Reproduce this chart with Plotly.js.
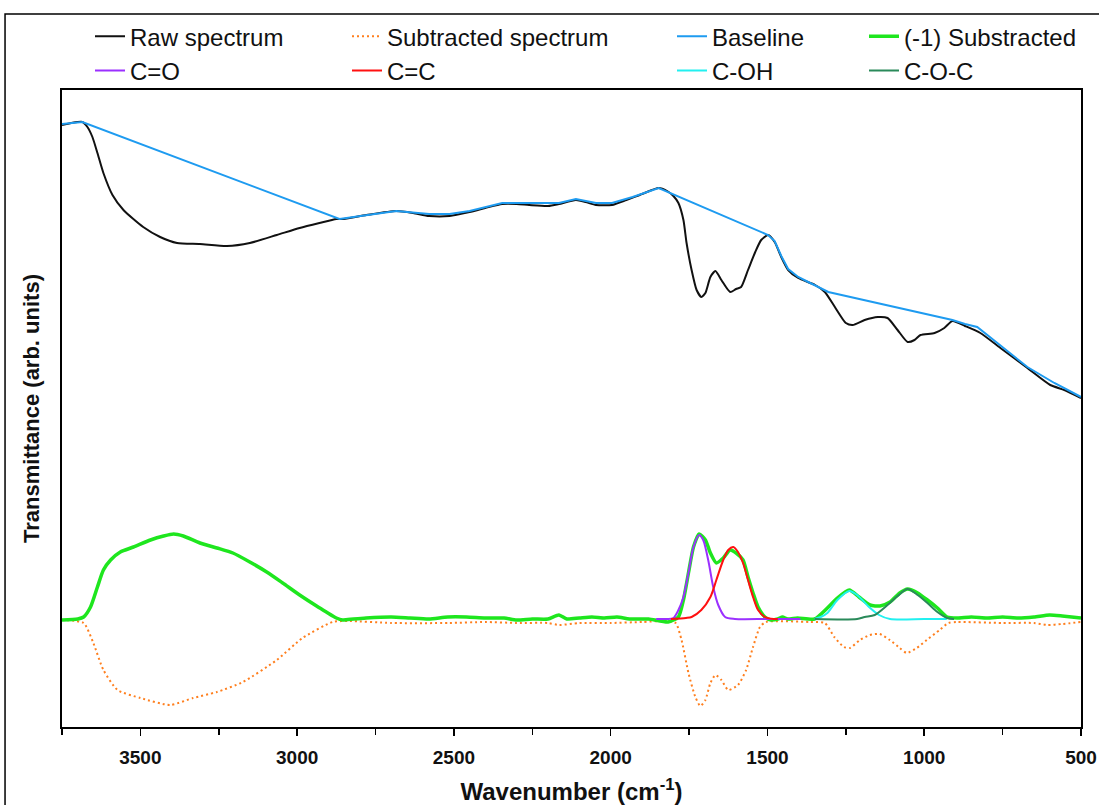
<!DOCTYPE html>
<html>
<head>
<meta charset="utf-8">
<script src="https://cdn.plot.ly/plotly-3.0.1.min.js"></script>
<style>
html,body{margin:0;padding:0;background:#fff;}
#chart{width:1099px;height:805px;}
</style>
</head>
<body>
<div id="chart"></div>
<script>
// ---- Data (wavenumber in cm-1, transmittance in arbitrary units) ----
const rawWn = [3750,3720,3685,3669,3653,3637,3618,3589,3554,3491,3437,3383,3310,3224,3151,3065,2992,2929,2875,2856,2779,2684,2630,2579,2514,2450,2400,2346,2300,2260,2200,2165,2111,2080,2047,1996,1950,1900,1847,1820,1800,1784,1768,1758,1742,1726,1711,1698,1682,1666,1647,1619,1600,1584,1562,1539,1520,1498,1477,1456,1434,1402,1348,1317,1285,1250,1228,1190,1148,1117,1085,1053,1031,1012,967,936,910,870,821,757,671,598,553,500];
const rawT  = [602,604,605,600,590,574,554,532,517,500,490,484,483,481,484,492,499,504,508,508,512,516,514,511,511,515,519,523,523,522,521,523,527,525,522,522,527,533,539,536,531,524,507,484,457,437,430,434,450,456,447,435,438,440,457,475,487,492,485,470,457,449,442,435,420,404,402,407,410,409,397,385,387,392,394,399,406,401,394,379,359,342,337,329];

const subWn = [3750,3681,3650,3618,3573,3500,3405,3332,3256,3173,3065,2983,2887,2833,2700,2515,2400,2300,2200,2165,2100,2000,1900,1830,1793,1774,1752,1730,1714,1698,1682,1666,1647,1625,1594,1568,1546,1524,1505,1363,1317,1287,1256,1237,1205,1174,1142,1110,1078,1056,1024,992,951,923,897,750,650,608,560,500];
const subT  = [107,104,84,57,37,29,22,29,35,45,67,89,105,106,104,104,105,104,104,102,104,104,105,106,104,87,54,30,21,27,44,52,47,37,42,57,80,100,105,105,104,90,80,79,87,92,93,87,79,74,79,87,97,104,105,104,104,102,103,105];

const baseWn = [3750,3685,2865,2800,2684,2579,2514,2450,2346,2260,2165,2111,2047,1996,1930,1847,1498,1477,1456,1434,1402,1370,1306,910,870,831,767,671,585,500];
const baseT  = [603,605,508,511,516,513,513,516,524,524,524,528,524,524,530,539,492,486,471,458,450,445,435,407,403,400,384,360,344,330];

const negWn = [3750,3700,3681,3659,3637,3618,3595,3564,3522,3468,3426,3394,3363,3310,3256,3205,3151,3097,3046,2992,2938,2907,2875,2855,2820,2780,2700,2640,2580,2520,2460,2400,2340,2300,2250,2200,2165,2140,2100,2060,2020,1980,1940,1879,1817,1784,1768,1752,1736,1718,1698,1682,1663,1641,1619,1600,1578,1562,1546,1530,1508,1489,1467,1452,1436,1404,1350,1309,1277,1239,1208,1173,1141,1109,1078,1053,1021,990,958,927,895,850,800,750,700,650,600,560,530,500];
const negT  = [107,108,110,120,140,157,167,175,180,187,191,193,191,184,179,174,165,155,144,132,121,115,109,107,108,109,110,109,108,110,110,109,109,107,108,108,112,108,109,110,109,110,108,108,105,110,127,154,180,193,187,174,164,169,177,174,167,150,134,120,110,107,108,110,108,109,108,119,129,137,130,122,121,125,134,138,134,127,119,110,109,110,109,110,109,110,112,111,110,109];

const coWn = [1855,1820,1800,1784,1768,1752,1736,1718,1705,1689,1673,1657,1635,1604,1500,1395];
const coT  = [108,108,109,117,130,154,180,192,187,167,140,122,110,108,108,108];

const ccWn = [1808,1760,1742,1711,1682,1663,1641,1625,1609,1594,1578,1562,1546,1530,1508,1480,1467];
const ccT  = [108,109,110,117,130,147,167,177,180,175,164,147,130,117,110,108,108];

const cohWn = [1350,1330,1309,1277,1239,1214,1176,1144,1109,1000,928];
const cohT  = [108,110,114,127,136,132,120,112,108,108,108];

const cocWn = [1350,1214,1190,1158,1117,1085,1053,1021,990,958,927,905];
const cocT  = [108,108,110,112,122,131,138,132,124,115,109,108];

const xTickVals = [3500,3000,2500,2000,1500,1000,500];
const xTickText = ['3500','3000','2500','2000','1500','1000','500'];

// ---- Traces ----
const traces = [
  {x: rawWn, y: rawT, name: 'Raw spectrum', mode: 'lines', legend: 'legend',
   line: {color: '#111111', width: 2, shape: 'spline', smoothing: 0.6}},
  {x: subWn, y: subT, name: 'Subtracted spectrum', mode: 'lines', legend: 'legend2',
   line: {color: '#ff7f1e', width: 2, dash: '2px,3px', shape: 'spline', smoothing: 0.6}},
  {x: baseWn, y: baseT, name: 'Baseline', mode: 'lines', legend: 'legend3',
   line: {color: '#1e9bf0', width: 2}},
  {x: negWn, y: negT, name: '(-1) Substracted', mode: 'lines', legend: 'legend4',
   line: {color: '#1ee61e', width: 3.5, shape: 'spline', smoothing: 0.6}},
  {x: coWn, y: coT, name: 'C=O', mode: 'lines', legend: 'legend',
   line: {color: '#9b30ff', width: 2, shape: 'spline', smoothing: 0.8}},
  {x: ccWn, y: ccT, name: 'C=C', mode: 'lines', legend: 'legend2',
   line: {color: '#ff1010', width: 2, shape: 'spline', smoothing: 0.8}},
  {x: cohWn, y: cohT, name: 'C-OH', mode: 'lines', legend: 'legend3',
   line: {color: '#22f0f0', width: 2, shape: 'spline', smoothing: 0.8}},
  {x: cocWn, y: cocT, name: 'C-O-C', mode: 'lines', legend: 'legend4',
   line: {color: '#2a8a5a', width: 2, shape: 'spline', smoothing: 0.8}}
];

const legFont = {family: 'Arial, "Liberation Sans", sans-serif', size: 24, color: '#111'};
function leg(xpx) {
  return {x: (xpx - 62) / 1019, y: 1.119, xanchor: 'left', yanchor: 'top',
          orientation: 'v', bgcolor: 'rgba(0,0,0,0)', font: legFont,
          tracegroupgap: 0, itemwidth: 30};
}

const layout = {
  width: 1099, height: 805,
  paper_bgcolor: '#ffffff', plot_bgcolor: '#ffffff',
  margin: {l: 62, r: 18, t: 90, b: 78, autoexpand: false},
  showlegend: true,
  legend: leg(90), legend2: leg(347), legend3: leg(672), legend4: leg(864),
  xaxis: {
    range: [3750, 500], showgrid: false, zeroline: false,
    showline: true, mirror: true, linecolor: '#000', linewidth: 2,
    ticks: 'outside', ticklen: 7, tickwidth: 1.5, tickcolor: '#000',
    ticklabelstandoff: 5,
    tickmode: 'array', tickvals: xTickVals, ticktext: xTickText,
    minor: {dtick: 250, tick0: 500, ticks: 'outside', ticklen: 6, tickwidth: 1.5, tickcolor: '#000', showgrid: false},
    tickfont: {family: 'Arial, "Liberation Sans", sans-serif', size: 19, color: '#111', weight: 'bold'},
    title: {text: 'Wavenumber (cm<sup>-1</sup>)', font: {family: 'Arial, "Liberation Sans", sans-serif', size: 24, color: '#111', weight: 'bold'}, standoff: 18}
  },
  yaxis: {
    range: [0, 637], showgrid: false, zeroline: false,
    showline: true, mirror: true, linecolor: '#000', linewidth: 2,
    ticks: '', showticklabels: false,
    title: {text: 'Transmittance (arb. units)', font: {family: 'Arial, "Liberation Sans", sans-serif', size: 22, color: '#111', weight: 'bold'}, standoff: 14}
  },
  shapes: [
    {type: 'rect', xref: 'paper', yref: 'paper', x0: -0.0559, x1: 1.03, y0: -0.15, y1: 1.1193,
     line: {color: '#000', width: 1.5}, fillcolor: 'rgba(0,0,0,0)', layer: 'below'}
  ]
};

Plotly.newPlot('chart', traces, layout, {displayModeBar: false, staticPlot: true});
</script>
</body>
</html>
